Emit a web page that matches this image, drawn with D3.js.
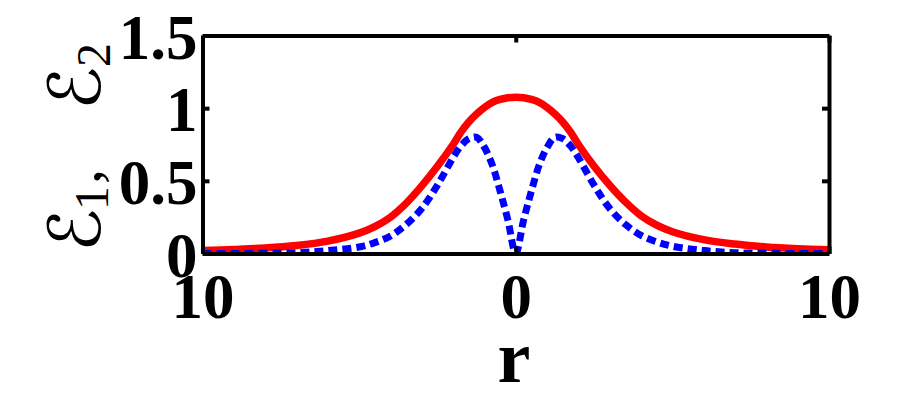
<!DOCTYPE html>
<html>
<head>
<meta charset="utf-8">
<script src="https://cdn.jsdelivr.net/npm/d3@7/dist/d3.min.js"></script>
<style>
  html, body { margin: 0; padding: 0; background: #fff; }
  svg { display: block; }
</style>
</head>
<body>
<svg id="chart" width="916" height="401"></svg>
<script>
// ---- data ----
const r  = [-10, -9, -8, -7, -6, -5, -4.5, -4, -3.5, -3, -2.5, -2, -1.75, -1.5, -1.25, -1, -0.75, -0.5, -0.25, 0,
            0.25, 0.5, 0.75, 1, 1.25, 1.5, 1.75, 2, 2.5, 3, 3.5, 4, 4.5, 5, 6, 7, 8, 9, 10];
const E1 = [0, 0, 0.002, 0.006, 0.02, 0.045, 0.075, 0.12, 0.20, 0.31, 0.47, 0.66, 0.74, 0.79, 0.80, 0.73, 0.61, 0.43, 0.23, 0,
            0.23, 0.43, 0.61, 0.73, 0.80, 0.79, 0.74, 0.66, 0.47, 0.31, 0.20, 0.125, 0.08, 0.05, 0.02, 0.006, 0.002, 0, 0];
const E2 = [0.02, 0.028, 0.038, 0.055, 0.085, 0.14, 0.185, 0.25, 0.345, 0.465, 0.60, 0.75, 0.835, 0.905, 0.96, 1.005, 1.04, 1.06, 1.072, 1.075,
            1.072, 1.06, 1.04, 1.005, 0.96, 0.905, 0.835, 0.75, 0.60, 0.47, 0.355, 0.26, 0.195, 0.15, 0.095, 0.065, 0.045, 0.033, 0.025];
const xTickValues = [-10, 0, 10];
const xTickLabels = ["10", "0", "10"];
const yTickValues = [0, 0.5, 1, 1.5];
const yTickLabels = ["0", "0.5", "1", "1.5"];

// ---- layout ----
const svg = d3.select("#chart");
const x = d3.scaleLinear().domain([-10, 10]).range([202.5, 829]);
const y = d3.scaleLinear().domain([0, 1.5]).range([253.5, 35.5]);
const serif = "'Liberation Serif', 'Times New Roman', serif";

const line = d3.line().x((d, i) => x(r[i])).y(d => y(d)).curve(d3.curveCatmullRom.alpha(0.5));

svg.append("defs").append("clipPath").attr("id", "clip")
  .append("rect").attr("x", x(-10)).attr("y", y(1.5)).attr("width", x(10) - x(-10)).attr("height", y(0) - y(1.5));

const plot = svg.append("g").attr("clip-path", "url(#clip)");
plot.append("path").datum(E2).attr("d", line)
  .attr("fill", "none").attr("stroke", "#ff0000").attr("stroke-width", 7.5);
plot.append("path").datum(E1).attr("d", line)
  .attr("fill", "none").attr("stroke", "#0000ff").attr("stroke-width", 7)
  .attr("stroke-dasharray", "9,5");

// ---- axes ----
function styleAxis(g) {
  g.select(".domain").attr("stroke", "#000").attr("stroke-width", 4);
  g.selectAll(".tick line").attr("stroke", "#000").attr("stroke-width", 4);
}
const gx = svg.append("g").attr("transform", `translate(0,${y(0)})`)
  .call(d3.axisBottom(x).tickValues(xTickValues).tickSizeInner(-7).tickSizeOuter(0)
        .tickFormat((d, i) => xTickLabels[i]));
styleAxis(gx);
gx.selectAll(".tick text").attr("y", 64.5).attr("dy", 0)
  .attr("font-family", serif).attr("font-weight", "bold").attr("font-size", 63).attr("fill", "#000");

const gxt = svg.append("g").attr("transform", `translate(0,${y(1.5)})`)
  .call(d3.axisTop(x).tickValues(xTickValues).tickSizeInner(-7).tickSizeOuter(0).tickFormat(""));
styleAxis(gxt);

const gy = svg.append("g").attr("transform", `translate(${x(-10)},0)`)
  .call(d3.axisLeft(y).tickValues(yTickValues).tickSizeInner(-7).tickSizeOuter(0)
        .tickFormat((d, i) => yTickLabels[i]));
styleAxis(gy);
gy.selectAll(".tick text").attr("x", -5).attr("dy", 0).attr("y", 22.5)
  .attr("font-family", serif).attr("font-weight", "bold").attr("font-size", 63).attr("fill", "#000");

const gyr = svg.append("g").attr("transform", `translate(${x(10)},0)`)
  .call(d3.axisRight(y).tickValues(yTickValues).tickSizeInner(-7).tickSizeOuter(0).tickFormat(""));
styleAxis(gyr);

// ---- axis labels ----
svg.append("text").attr("x", 514).attr("y", 382).attr("text-anchor", "middle")
  .attr("font-family", serif).attr("font-weight", "bold").attr("font-size", 74).text("r");

const yl = svg.append("text").attr("transform", "translate(100,252) rotate(-90)")
  .attr("font-family", "'DejaVu Serif', 'DejaVu Sans', serif").attr("fill", "#000");
yl.append("tspan").attr("x", 0).attr("y", 0).attr("font-size", 72).text("ℰ");
yl.append("tspan").attr("x", 42).attr("y", 8).attr("font-family", serif).attr("font-size", 48).text("1");
yl.append("tspan").attr("x", 68).attr("y", 0).attr("font-family", serif).attr("font-size", 60).text(",");
yl.append("tspan").attr("x", 142).attr("y", 0).attr("font-size", 72).text("ℰ");
yl.append("tspan").attr("x", 185).attr("y", 10).attr("font-family", serif).attr("font-size", 48).text("2");
</script>
</body>
</html>
